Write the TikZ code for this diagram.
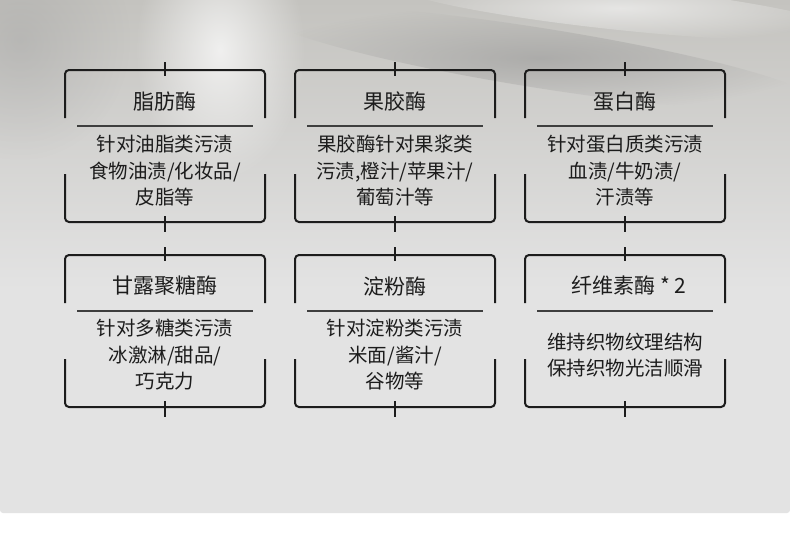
\documentclass[tikz,border=0pt]{standalone}
\usepackage{fontspec}
\setmainfont{Noto Sans CJK SC}
\usetikzlibrary{fadings}
\definecolor{bgtop}{RGB}{196,195,191}
\definecolor{bgmid}{RGB}{227,227,227}
\definecolor{ink}{RGB}{28,28,28}
\tikzfading[name=softspot,inner color=transparent!0,outer color=transparent!100]

\begin{document}
\begin{tikzpicture}[x=1pt,y=-1pt,
    frame/.style={line width=2pt,draw=ink,rounded corners=4pt},
    tick/.style={line width=1.4pt,draw=ink},
    rule/.style={line width=2pt,draw=ink!85},
    title/.style={font=\fontsize{21}{24}\selectfont,text=ink},
    body/.style={font=\fontsize{19.5}{26.5}\selectfont,text=ink,align=center}]
\useasboundingbox (0,0) rectangle (790,536);
% background
\fill[white] (0,0) rectangle (790,536);
\fill[bgmid,rounded corners=3pt] (0,-6) -- (0,513) -- (790,513) -- (790,-6) -- cycle;
\shade[top color=bgtop,bottom color=bgmid] (0,0) rectangle (790,290);
\fill[black!40,opacity=0.35,path fading=softspot] (20,40) ellipse (110 and 120);
\fill[white!92!bgmid,opacity=0.75,path fading=softspot] (220,50) ellipse (85 and 130);
\fill[black!50,opacity=0.4,path fading=softspot,rotate around={-9:(540,58)}] (540,58) ellipse (280 and 30);
\fill[white!90!bgmid,opacity=0.6,path fading=softspot,rotate around={-6:(620,8)}] (620,8) ellipse (230 and 22);

% frames
\foreach \bx/\by in {65/70,295/70,525/70,65/255,295/255,525/255}{
  \draw[frame] (\bx,\by+48) -- (\bx,\by) -- (\bx+200,\by) -- (\bx+200,\by+48);
  \draw[frame] (\bx,\by+104) -- (\bx,\by+152) -- (\bx+200,\by+152) -- (\bx+200,\by+104);
  \draw[tick] (\bx+100,\by-8) -- (\bx+100,\by+6);
  \draw[tick] (\bx+100,\by+146) -- (\bx+100,\by+162);
  \draw[rule] (\bx+12,\by+56) -- (\bx+188,\by+56);
}

% first row
\node[title] (lipase) at (165,102) {脂肪酶};
\node[body] (lipasetxt) at (165,171) {针对油脂类污渍\\食物油渍/化妆品/\\皮脂等};
\node[title] (pectinase) at (395,102) {果胶酶};
\node[body] (pectinasetxt) at (395,171) {果胶酶针对果浆类\\污渍,橙汁/苹果汁/\\葡萄汁等};
\node[title] (protease) at (625,102) {蛋白酶};
\node[body] (proteasetxt) at (625,171) {针对蛋白质类污渍\\血渍/牛奶渍/\\汗渍等};

% second row
\node[title] (mannanase) at (165,286) {甘露聚糖酶};
\node[body] (mannanasetxt) at (165,355) {针对多糖类污渍\\冰激淋/甜品/\\巧克力};
\node[title] (amylase) at (395,286) {淀粉酶};
\node[body] (amylasetxt) at (395,355) {针对淀粉类污渍\\米面/酱汁/\\谷物等};
\node[title] (cellulase) at (629,286) {纤维素酶 * 2};
\node[body] (cellulasetxt) at (625,355) {维持织物纹理结构\\保持织物光洁顺滑};
\end{tikzpicture}
\end{document}
